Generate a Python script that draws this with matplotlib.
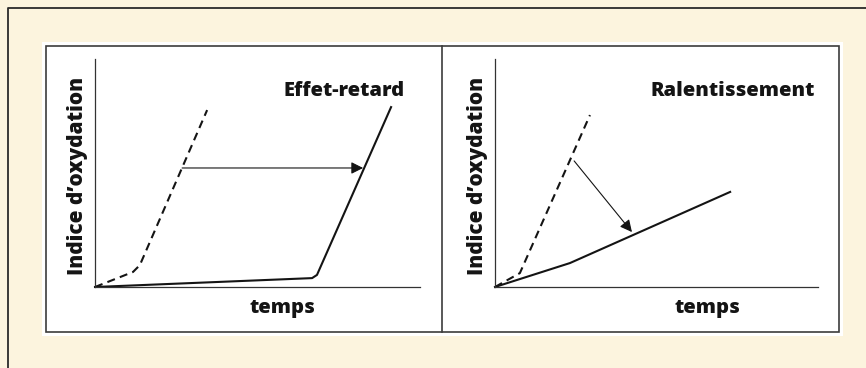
import matplotlib
matplotlib.use("Agg")
import matplotlib.pyplot as plt
from matplotlib.patches import Rectangle

# ---------------- data (arbitrary units: temps 0-100, indice 0-100) ----------------
panel_titles = ["Effet-retard", "Ralentissement"]
x_label = "temps"
y_label = "Indice d\u2019oxydation"

# left panel: reference (dashed) and antioxidant delayed (solid)
left_ref_t = [0, 11.7, 13.8, 34.5]
left_ref_ox = [0, 6.6, 9.6, 77.6]
left_anti_t = [0, 66.8, 68.3, 91.1]
left_anti_ox = [0, 3.9, 5.3, 78.9]
left_arrow_from = (26.8, 52.2)
left_arrow_to = (82.5, 52.2)

# right panel: reference (dashed) and slowed (solid)
right_ref_t = [0, 7.7, 29.4]
right_ref_ox = [0, 6.1, 75.4]
right_anti_t = [0, 23.2, 72.8]
right_anti_ox = [0, 10.5, 41.7]
right_arrow_from = (24.5, 55.3)
right_arrow_to = (42.4, 24.1)

W, H, DPI = 866, 368, 100
BG = "#fcf4de"
INK = "#141414"
FONT_BOLD = ["Open Sans", "DejaVu Sans"]

plt.rcParams["lines.scale_dashes"] = False

fig = plt.figure(figsize=(W / DPI, H / DPI), dpi=DPI, facecolor=BG)

# decoration layer in pixel coordinates
deco = fig.add_axes([0, 0, 1, 1], zorder=0)
deco.set_xlim(0, W)
deco.set_ylim(H, 0)
deco.axis("off")
deco.plot([8, 8, W], [H, 8, 8], color="#2a2a2a", lw=1.3, solid_capstyle="butt")
deco.add_patch(Rectangle((42, 42), 801, 294, facecolor="white", edgecolor="none"))
deco.add_patch(Rectangle((46, 46), 793, 286, facecolor="none", edgecolor="#3c3c3c", lw=1.2))
deco.plot([442, 442], [46, 332], color="#3c3c3c", lw=1.2)


def panel(rect, ref_t, ref_ox, anti_t, anti_ox, a_from, a_to, title, title_x, temps_x, ylab_x):
    ax = fig.add_axes(rect, zorder=2)
    ax.patch.set_alpha(0)
    ax.set_xlim(0, 100)
    ax.set_ylim(0, 100)
    for s in ("top", "right"):
        ax.spines[s].set_visible(False)
    for s in ("left", "bottom"):
        ax.spines[s].set_color("#333333")
        ax.spines[s].set_linewidth(0.9)
    ax.set_xticks([])
    ax.set_yticks([])
    ax.plot(ref_t, ref_ox, color=INK, lw=1.5, dashes=(5.8, 3.8), clip_on=False)
    ax.plot(anti_t, anti_ox, color=INK, lw=1.5, solid_joinstyle="round", clip_on=False)
    ax.annotate("", xy=a_to, xytext=a_from,
                arrowprops=dict(arrowstyle="-|>", color=INK, lw=0.8,
                                mutation_scale=18, shrinkA=0, shrinkB=0))
    ax.text(title_x, 83.8, title, ha="right", va="baseline", fontsize=14.5,
            fontweight="extra bold", family=FONT_BOLD, color=INK)
    ax.text(temps_x, -11.4, x_label, ha="center", va="baseline", fontsize=14.5,
            fontweight="extra bold", family=FONT_BOLD, color=INK, clip_on=False)
    ax.text(ylab_x, 0.485, y_label, ha="center", va="center", rotation=90,
            fontsize=15, fontweight="extra bold", family=FONT_BOLD, color=INK,
            transform=ax.transAxes)
    return ax


y0 = (H - 287) / H
hh = 228 / H
panel([95 / W, y0, 325 / W, hh], left_ref_t, left_ref_ox, left_anti_t, left_anti_ox,
      left_arrow_from, left_arrow_to, panel_titles[0], 95.4, 57.8, -0.055)
panel([495 / W, y0, 323 / W, hh], right_ref_t, right_ref_ox, right_anti_t, right_anti_ox,
      right_arrow_from, right_arrow_to, panel_titles[1], 99.1, 65.6, -0.053)

fig.savefig("out.png", dpi=DPI, facecolor=BG)
